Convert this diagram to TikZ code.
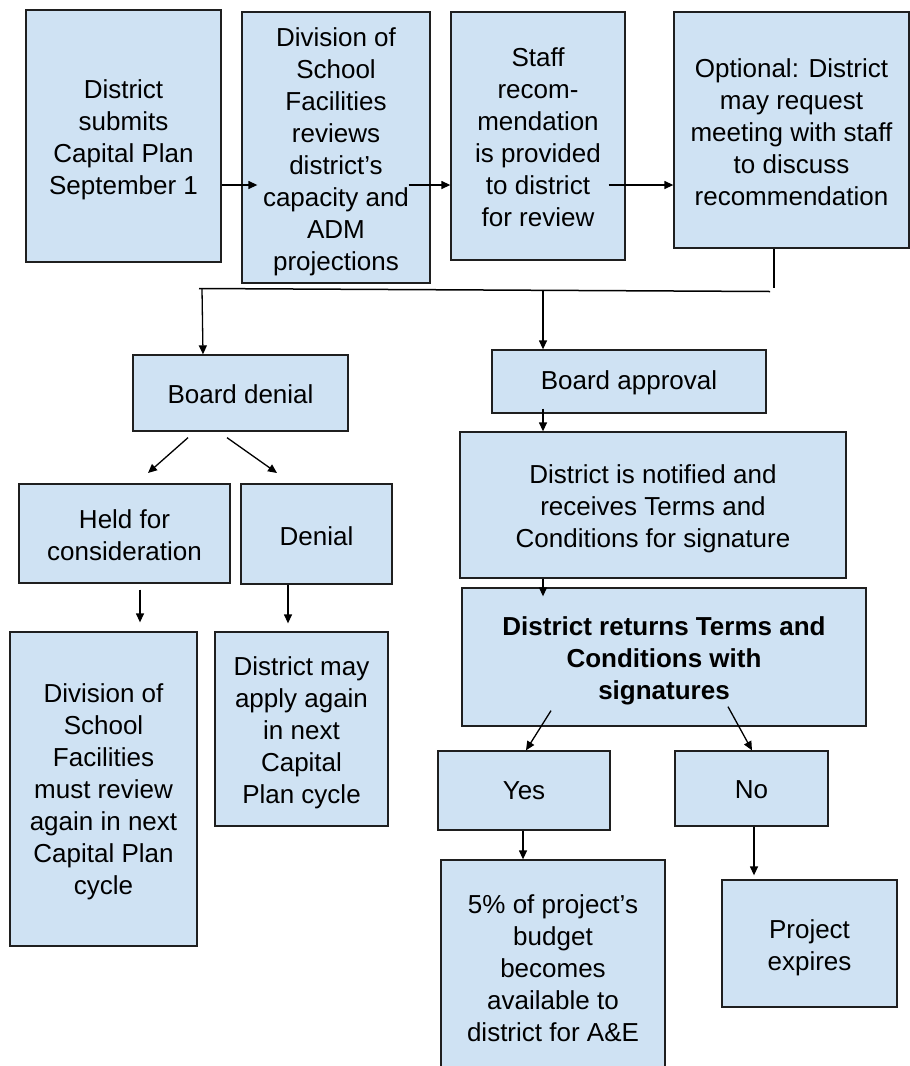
\documentclass[tikz,border=0pt]{standalone}
\usepackage{fontspec}
\setmainfont{Liberation Sans}
\usetikzlibrary{arrows.meta,calc}
\definecolor{boxblue}{HTML}{CFE2F3}
\definecolor{edge}{HTML}{1F1F1F}
\tikzset{
  fbox/.style={draw=edge, line width=1.3pt, fill=boxblue, inner sep=0pt},
  ftxt/.style={inner sep=0pt, align=center, font=\fontsize{26}{32}\selectfont},
  arr/.style={draw=black, line width=1.3pt, -{Triangle[length=9pt,width=8pt]}},
  ln/.style={draw=black, line width=1.5pt}
}
% \bx[text shift down]{name}{x1}{y1}{x2}{y2}{text}
\newcommand{\bx}[7][3]{%
  \pgfmathsetmacro{\cxx}{(#3+#5)/2}%
  \pgfmathsetmacro{\cyy}{(#4+#6)/2}%
  \pgfmathsetmacro{\wdd}{#5-#3}%
  \pgfmathsetmacro{\htt}{#6-#4}%
  \node[fbox, minimum width=\wdd pt, minimum height=\htt pt] (#2) at (\cxx,\cyy) {};%
  \node[ftxt] (#2-t) at ([yshift=-#1pt]#2.center) {#7};%
}
\begin{document}
\begin{tikzpicture}[x=1pt,y=-1pt]
\clip (0,0) rectangle (910,1066);
\fill[white] (0,0) rectangle (910,1066);
% top row
\bx[4]{b1}{26}{10}{221}{262}{District\\submits\\Capital Plan\\September 1}
\bx[4]{b2}{242}{12}{430}{283}{Division of\\School\\Facilities\\reviews\\district’s\\capacity and\\ADM\\projections}
\bx[1]{b3}{451}{12}{625}{260}{Staff\\recom-\\mendation\\is provided\\to district\\for review}
\bx[2]{b4}{674}{12}{909}{248}{Optional: District\\may request\\meeting with staff\\to discuss\\recommendation}
% board
\bx[1]{deny}{133}{355}{348}{431}{Board denial}
\bx[1]{appr}{492}{350}{766}{413}{Board approval}
% approval branch
\bx[4]{notif}{460}{432}{846}{578}{District is notified and\\receives Terms and\\Conditions for signature}
\bx[4]{ret}{462}{588}{866}{726}{\bfseries District returns Terms and\\\bfseries Conditions with\\\bfseries signatures}
\bx[0]{yes}{438}{751}{610}{830}{Yes}
\bx[1]{no}{675}{751}{828}{826}{No}
\bx[0]{avail}{441}{860}{665}{1076}{5\% of project’s\\budget\\becomes\\available to\\district for A\&E}
\bx[4]{exp}{722}{880}{897}{1007}{Project\\expires}
% denial branch
\bx[2]{held}{19}{484}{230}{583}{Held for\\consideration}
\bx[2]{den}{241}{484}{392}{584}{Denial}
\bx[3]{dsf}{10}{632}{197}{946}{Division of\\School\\Facilities\\must review\\again in next\\Capital Plan\\cycle}
\bx[4]{again}{215}{632}{388}{826}{District may\\apply again\\in next\\Capital\\Plan cycle}
% top arrows
\draw[arr] (b1.east |- 0,185) -- ([xshift=16pt]b2.west |- 0,185);
\draw[arr] ([xshift=-22pt]b2.east |- 0,185) -- (b3.west |- 0,185);
\draw[arr] ([xshift=-17pt]b3.east |- 0,185) -- (b4.west |- 0,185);
% bus
\coordinate (busD) at (774,288);
\coordinate (busR) at (770,291.5);
\coordinate (busL) at (199,288.5);
\draw[ln] (b4.south -| busD) -- (busD);
\draw[ln] (busR) -- (busL);
\draw[arr] (202,289) -- (deny.north -| 203,0);
\draw[arr] (543,290) -- (appr.north -| 543,0);
% approval chain
\draw[arr] ([yshift=5pt]appr.south -| 543,0) -- (notif.north -| 543,0);
\draw[arr] (notif.south -| 543,0) -- ([yshift=-9pt]ret.north -| 543,0);
\draw[arr] ($(ret.south)+(-113,-16)$) -- ($(yes.north)+(2,0)$);
\draw[arr] ($(ret.south)+(64,-20)$) -- ($(no.north)+(0.5,0)$);
\draw[arr] (yes.south -| 523,0) -- (avail.north -| 523,0);
\draw[arr] (no.south -| 754,0) -- ([yshift=4pt]exp.north -| 754,0);
% denial branch
\draw[arr] ([yshift=-6pt]deny.south -| 188,0) -- (148,473);
\draw[arr] ([yshift=-6pt]deny.south -| 227,0) -- (277,473);
\draw[arr] ([yshift=-6pt]held.south -| 140,0) -- ([yshift=9pt]dsf.north -| 140,0);
\draw[arr] (den.south -| 288,0) -- ([yshift=8pt]again.north -| 288,0);
\end{tikzpicture}
\end{document}
